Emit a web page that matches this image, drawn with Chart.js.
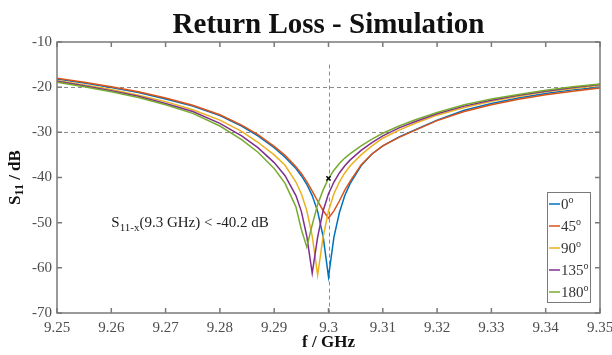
<!DOCTYPE html>
<html>
<head>
<meta charset="utf-8">
<script src="https://cdn.jsdelivr.net/npm/chart.js@4.4.1/dist/chart.umd.min.js"></script>
<style>
  html, body { margin: 0; padding: 0; background: #fff; }
</style>
</head>
<body>
<canvas id="chart" width="612" height="355"></canvas>
<script>
// frequency grid (GHz), finer around the resonances
const freqs = [9.250, 9.255, 9.260, 9.265, 9.270, 9.275, 9.280, 9.284, 9.287, 9.290,
  9.292, 9.294, 9.295, 9.296, 9.297, 9.298, 9.299, 9.300, 9.301, 9.302,
  9.303, 9.304, 9.306, 9.308, 9.310, 9.313, 9.316, 9.320, 9.325, 9.330,
  9.335, 9.340, 9.345, 9.350];

// S11 in dB
const s11_0 = [-18.2, -19.1, -20.1, -21.2, -22.6, -24.2, -26.3, -28.6, -30.8, -33.4,
  -35.5, -38.0, -39.6, -41.5, -44.0, -47.5, -53.0, -62.0, -53.2, -47.8,
  -44.0, -41.3, -37.4, -34.8, -33.0, -31.0, -29.4, -27.3, -25.1, -23.6,
  -22.4, -21.4, -20.6, -20.0];
const s11_45 = [-18.0, -18.9, -19.9, -21.0, -22.4, -24.0, -26.1, -28.4, -30.5, -33.1,
  -35.1, -37.6, -39.1, -40.9, -43.0, -45.2, -47.3, -49.0, -47.4, -45.2,
  -42.8, -40.8, -37.2, -34.8, -33.0, -31.1, -29.5, -27.4, -25.4, -23.9,
  -22.7, -21.7, -20.9, -20.2];
const s11_90 = [-18.5, -19.5, -20.5, -21.8, -23.2, -25.0, -27.3, -29.8, -32.2, -35.0,
  -37.3, -41.0, -43.6, -47.3, -53.0, -61.6, -53.2, -47.4, -43.6, -41.0,
  -39.0, -37.4, -35.0, -33.0, -31.3, -29.5, -28.0, -26.2, -24.5, -23.1,
  -22.0, -21.0, -20.3, -19.6];
const s11_135 = [-18.7, -19.7, -20.8, -22.0, -23.6, -25.4, -28.0, -30.8, -33.4, -36.7,
  -39.6, -44.0, -47.5, -53.0, -61.2, -53.2, -47.4, -43.6, -41.0, -39.0,
  -37.4, -36.1, -34.0, -32.3, -30.8, -29.0, -27.6, -25.9, -24.2, -22.9,
  -21.8, -20.9, -20.1, -19.4];
const s11_180 = [-18.9, -19.9, -21.0, -22.3, -23.9, -25.8, -28.6, -31.6, -34.4, -38.0,
  -41.3, -46.5, -51.5, -55.4, -50.5, -46.0, -42.8, -40.2, -38.4, -36.9,
  -35.7, -34.7, -33.0, -31.5, -30.2, -28.6, -27.2, -25.6, -23.9, -22.6,
  -21.6, -20.7, -19.9, -19.3];

const seriesLabels = ["0", "45", "90", "135", "180"];
const seriesValues = [s11_0, s11_45, s11_90, s11_135, s11_180];
const seriesColors = ["#0072BD", "#D95319", "#EDB120", "#7E2F8E", "#77AC30"];

const xTicks = [9.25, 9.26, 9.27, 9.28, 9.29, 9.30, 9.31, 9.32, 9.33, 9.34, 9.35];
const yTicks = [-10, -20, -30, -40, -50, -60, -70];

const refLevels = [-20, -30];
const refFreq = 9.3;
const refFreqTop = -15;
const markerPoint = { x: 9.3, y: -40.2 };
const notePos = { x: 9.26, y: -50 };

const SERIF = "'Liberation Serif', 'Times New Roman', serif";

const datasets = seriesValues.map((vals, i) => ({
  label: seriesLabels[i],
  data: freqs.map((f, k) => ({ x: f, y: vals[k] })),
  borderColor: seriesColors[i],
  borderWidth: 1.5,
  pointRadius: 0,
  tension: 0,
  order: 5 - i
}));
datasets.push({
  type: "scatter",
  label: "marker",
  data: [markerPoint],
  pointStyle: "crossRot",
  pointRadius: 3,
  borderColor: "#000",
  borderWidth: 1.5,
  order: 0
});

// draw text pieces with sub/superscripts one after another
function drawRuns(ctx, runs, x, y) {
  let cx = x;
  runs.forEach(r => {
    ctx.font = r.font;
    ctx.fillText(r.text, cx, y + (r.dy || 0));
    cx += ctx.measureText(r.text).width;
  });
  return cx - x;
}
function runsWidth(ctx, runs) {
  let w = 0;
  runs.forEach(r => { ctx.font = r.font; w += ctx.measureText(r.text).width; });
  return w;
}

const matlabLook = {
  id: "matlabLook",
  beforeDatasetsDraw(chart) {
    const { ctx, chartArea: a, scales: { x, y } } = chart;
    ctx.save();
    ctx.strokeStyle = "#8c8c8c";
    ctx.lineWidth = 1;
    ctx.setLineDash([4, 3]);
    refLevels.forEach(v => {
      const py = Math.round(y.getPixelForValue(v)) + 0.5;
      ctx.beginPath(); ctx.moveTo(a.left, py); ctx.lineTo(a.right, py); ctx.stroke();
    });
    const px = Math.round(x.getPixelForValue(refFreq)) + 0.5;
    ctx.beginPath();
    ctx.moveTo(px, y.getPixelForValue(refFreqTop));
    ctx.lineTo(px, a.bottom);
    ctx.stroke();
    ctx.restore();
  },
  afterDatasetsDraw(chart) {
    const { ctx, chartArea: a, scales: { x, y } } = chart;
    ctx.save();

    // axes box with inward ticks
    ctx.strokeStyle = "#7a7a7a";
    ctx.lineWidth = 1.5;
    ctx.strokeRect(a.left, a.top, a.right - a.left, a.bottom - a.top);
    ctx.beginPath();
    xTicks.forEach(v => {
      const px = x.getPixelForValue(v);
      ctx.moveTo(px, a.bottom); ctx.lineTo(px, a.bottom - 5);
      ctx.moveTo(px, a.top); ctx.lineTo(px, a.top + 5);
    });
    yTicks.forEach(v => {
      const py = y.getPixelForValue(v);
      ctx.moveTo(a.left, py); ctx.lineTo(a.left + 5, py);
      ctx.moveTo(a.right, py); ctx.lineTo(a.right - 5, py);
    });
    ctx.stroke();

    // note text
    ctx.fillStyle = "#222";
    ctx.textBaseline = "middle";
    ctx.textAlign = "left";
    drawRuns(ctx, [
      { text: "S", font: "15px " + SERIF },
      { text: "11-x", font: "11px " + SERIF, dy: 5 },
      { text: "(9.3 GHz) < -40.2 dB", font: "15px " + SERIF }
    ], x.getPixelForValue(notePos.x), y.getPixelForValue(notePos.y));

    // legend
    const bw = 43, bh = 110;
    const bx = a.right - 53, by = a.bottom - 121;
    ctx.fillStyle = "#fff";
    ctx.fillRect(bx, by, bw, bh);
    ctx.strokeStyle = "#7a7a7a";
    ctx.lineWidth = 1;
    ctx.strokeRect(bx + 0.5, by + 0.5, bw, bh);
    seriesLabels.forEach((lab, i) => {
      const ly = by + 12 + i * 22;
      ctx.strokeStyle = seriesColors[i];
      ctx.lineWidth = 1.5;
      ctx.beginPath(); ctx.moveTo(bx + 2, ly); ctx.lineTo(bx + 13, ly); ctx.stroke();
      ctx.fillStyle = "#333";
      drawRuns(ctx, [
        { text: lab, font: "15px " + SERIF },
        { text: "o", font: "10px " + SERIF, dy: -5 }
      ], bx + 14, ly + 1);
    });

    // title
    const cx = (a.left + a.right) / 2;
    ctx.fillStyle = "#111";
    ctx.textAlign = "center";
    ctx.textBaseline = "alphabetic";
    ctx.font = "bold 29px " + SERIF;
    ctx.fillText("Return Loss - Simulation", cx, 33);

    // x title
    ctx.font = "bold 17px " + SERIF;
    ctx.textBaseline = "middle";
    ctx.fillText("f / GHz", cx, 343);

    // y title, rotated
    const yRuns = [
      { text: "S", font: "bold 17px " + SERIF },
      { text: "11", font: "bold 12px " + SERIF, dy: 4 },
      { text: " / dB", font: "bold 17px " + SERIF }
    ];
    ctx.translate(16, (a.top + a.bottom) / 2);
    ctx.rotate(-Math.PI / 2);
    ctx.textAlign = "left";
    drawRuns(ctx, yRuns, -runsWidth(ctx, yRuns) / 2, 0);
    ctx.restore();
  }
};

new Chart(document.getElementById("chart"), {
  type: "line",
  data: { datasets },
  options: {
    responsive: false,
    animation: false,
    layout: { padding: { top: 42, right: 12, left: 0, bottom: 0 } },
    plugins: { legend: { display: false }, tooltip: { enabled: false }, title: { display: false } },
    scales: {
      x: {
        type: "linear",
        min: 9.25,
        max: 9.35,
        afterBuildTicks: s => { s.ticks = xTicks.map(v => ({ value: v })); },
        afterFit: s => { s.height = 42; s.paddingLeft = 0; s.paddingRight = 0; },
        grid: { display: false, drawTicks: false },
        border: { display: false },
        ticks: {
          autoSkip: false,
          maxRotation: 0,
          padding: 6,
          color: "#4d4d4d",
          font: { family: SERIF, size: 15 },
          callback: v => String(Number(v.toFixed(2)))
        }
      },
      y: {
        min: -70,
        max: -10,
        afterBuildTicks: s => { s.ticks = yTicks.map(v => ({ value: v })); },
        afterFit: s => { s.width = 57; s.paddingTop = 0; s.paddingBottom = 0; },
        grid: { display: false, drawTicks: false },
        border: { display: false },
        ticks: {
          padding: 5,
          color: "#4d4d4d",
          font: { family: SERIF, size: 15 }
        }
      }
    }
  },
  plugins: [matlabLook]
});
</script>
</body>
</html>
